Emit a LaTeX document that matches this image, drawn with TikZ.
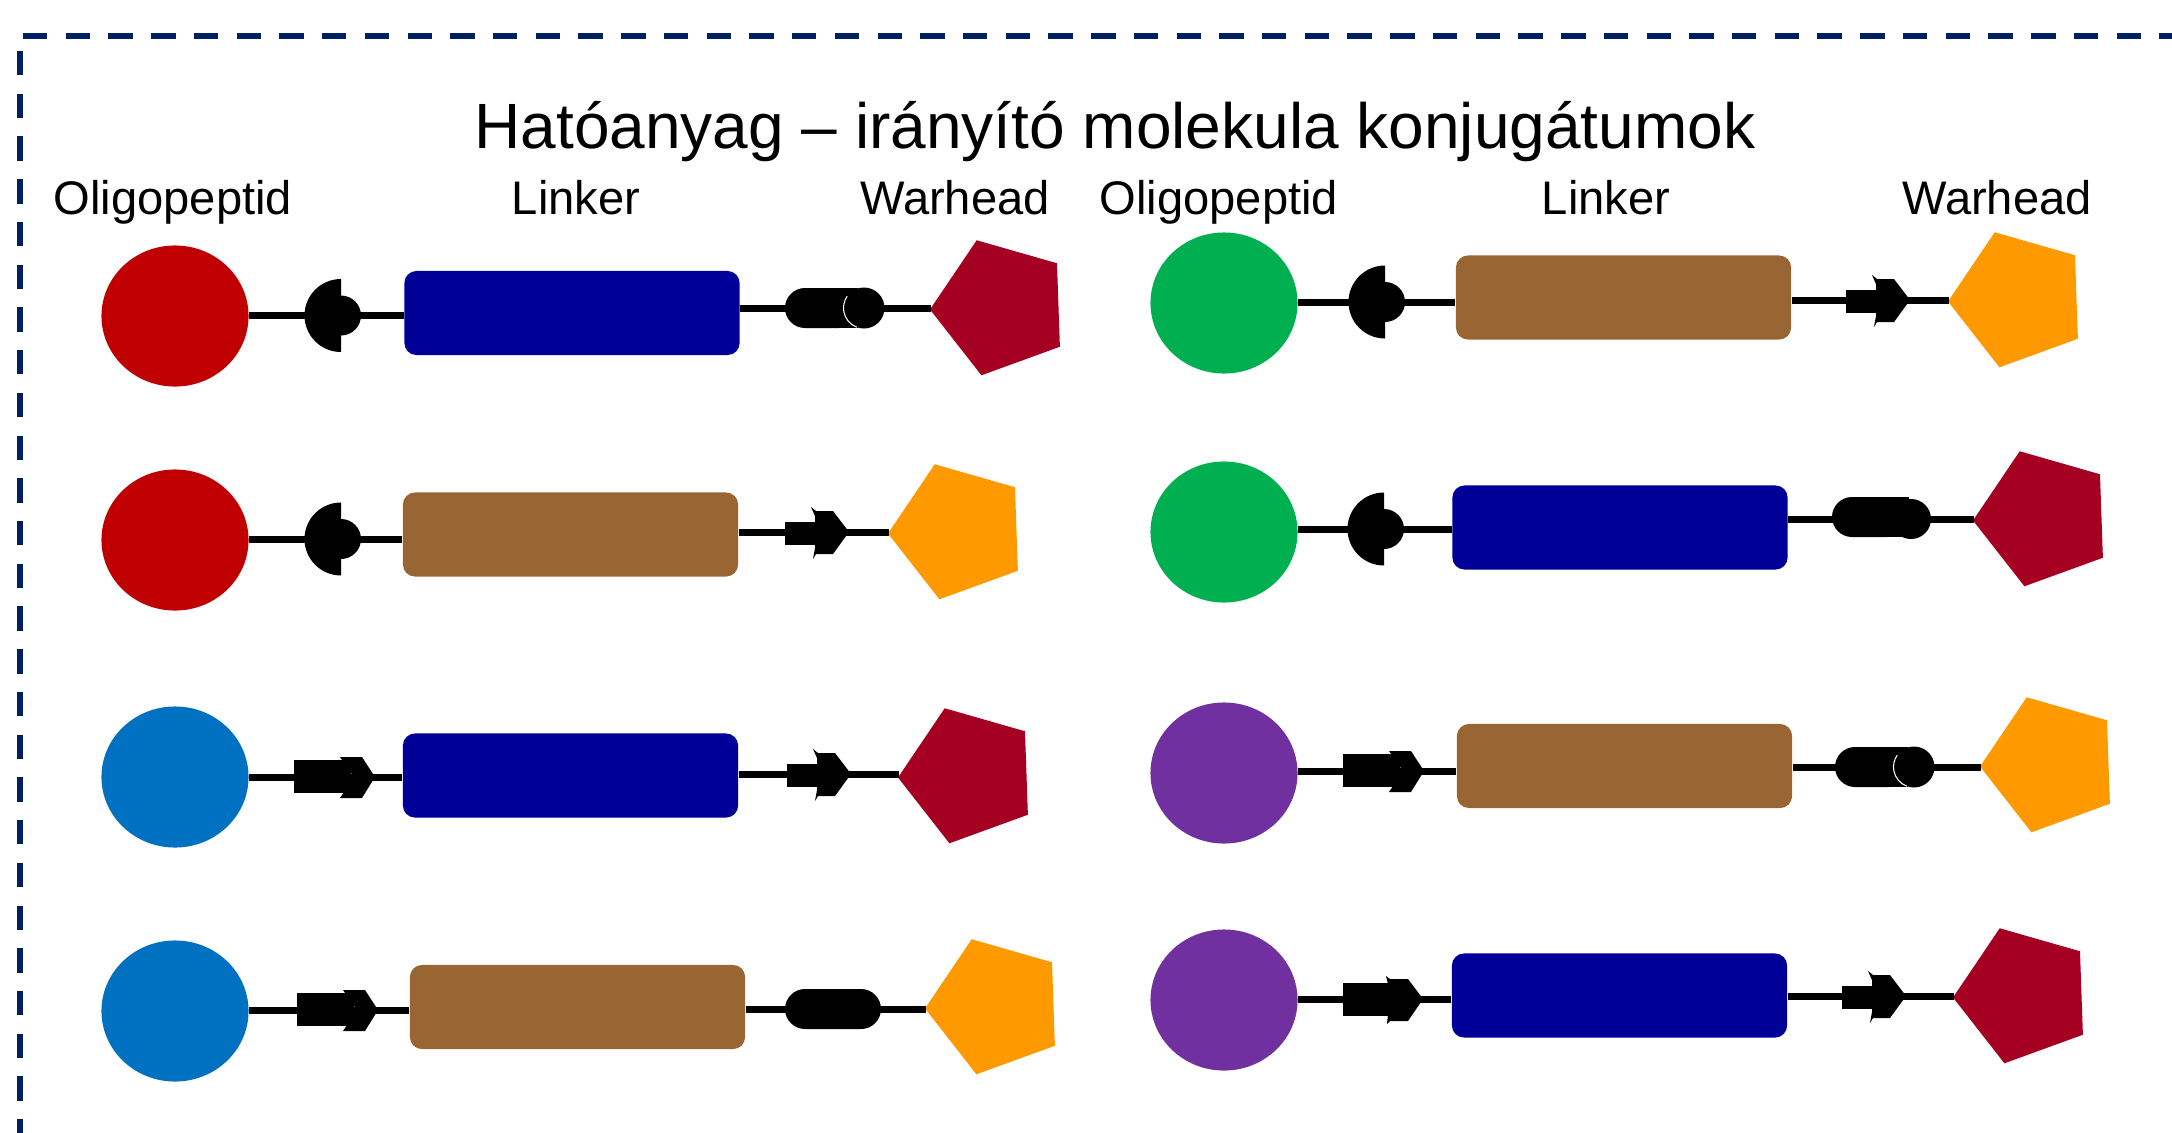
\documentclass[tikz,border=0pt]{standalone}
\usepackage{fontspec}
\setmainfont{Liberation Sans}
\usetikzlibrary{shapes.geometric}
\definecolor{navy}{HTML}{002060}
\definecolor{cred}{HTML}{C00000}
\definecolor{cgreen}{HTML}{00B050}
\definecolor{cblue}{HTML}{0070C0}
\definecolor{cpurple}{HTML}{7030A0}
\definecolor{boxblue}{HTML}{000099}
\definecolor{boxbrown}{HTML}{996633}
\definecolor{pdred}{HTML}{A50021}
\definecolor{porange}{HTML}{FF9900}
\tikzset{
 oligo/.style={ellipse, draw=none, inner sep=0pt, minimum width=1.47cm, minimum height=1.41cm},
 linker/.style={rectangle, draw=none, rounded corners=0.12cm, inner sep=0pt, minimum width=3.35cm, minimum height=0.84cm},
 warhead/.style={regular polygon, regular polygon sides=5, shape border rotate=92, draw=none, inner sep=0pt, minimum size=1.42cm},
 bond/.style={line width=0.07cm, black},
 lab/.style={anchor=base, font=\fontsize{13.4}{16}\selectfont},
 pics/socket/.style={code={
   \fill (0,36.5) arc[start angle=90,end angle=270,radius=36.5] -- cycle;
   \fill (0,0) circle[radius=20];
 }},
 pics/capball/.style={code={
   \fill[rounded corners=0.2cm] (-79,-22) rectangle (-5,18);
   \fill (-30,-22) rectangle (-2,18);
   \fill (0,0) circle[radius=20];
 }},
 pics/capballw/.style={code={
   \fill[rounded corners=0.2cm] (-79,-20) rectangle (-5,20);
   \fill (-30,-20) rectangle (-6,20);
   \fill (0,0) circle[radius=20.5];
   \draw[white,line width=0.3pt] (0,0) ++(110:20.5) arc[start angle=110,end angle=215,radius=20.5];
 }},
 pics/capsule/.style={code={
   \fill[rounded corners=0.2cm] (-48,-20) rectangle (48,20);
 }},
 pics/chevarrow/.style={code={
   \fill (-81,-17) rectangle (-24,16);
   \fill (-35,-20) -- (-13,-20) -- (0,0) -- (-13,21) -- (-35,21) -- (-21,0) -- cycle;
 }},
 pics/smallarrow/.style={code={
   \fill (-64,-10) rectangle (-33,13);
   \fill (-38,-25) -- (-33,-21) -- (-16,-21) -- (0,0) -- (-16,22) -- (-33,22) -- (-36,27) -- (-34,16) -- (-34,-16) -- cycle;
 }},
 pics/bigarrow/.style={code={
   \fill (-80,-16) rectangle (-34,17);
   \fill (-37,-23) -- (-33,-20) -- (-15,-20) -- (0,0) -- (-15,22) -- (-33,22) -- (-36,25) -- (-35,15) -- (-35,-15) -- cycle;
 }},
}
\begin{document}
\begin{tikzpicture}[x=0.01cm,y=-0.01cm]
\useasboundingbox (0,0) rectangle (2172,1133);
\begin{scope}
\clip (0,0) rectangle (2172,1133);
\draw[navy, line width=0.06cm, dash pattern=on 0.244cm off 0.183cm] (23,36) -- (2300,36);
\draw[navy, line width=0.06cm, dash pattern=on 0.244cm off 0.183cm] (20,51) -- (20,1300);
\end{scope}

% texts
\node[anchor=base, font=\fontsize{18.2}{22}\selectfont] (title) at (1115,148) {Hatóanyag – irányító molekula konjugátumok};
\node[lab] (h1) at (173,214) {Oligopeptid};
\node[lab] (h2) at (576,214) {Linker};
\node[lab] (h3) at (955,214) {Warhead};
\node[lab] (h4) at (1219,214) {Oligopeptid};
\node[lab] (h5) at (1606,214) {Linker};
\node[lab] (h6) at (1997,214) {Warhead};

% ---------- left column ----------
\node[oligo, fill=cred] (o1) at (175,316) {};
\node[linker, fill=boxblue] (l1) at (572,313) {};
\node[warhead, fill=pdred] (w1) at (1001,307) {};
\coordinate (a1) at (341,315.5);
\coordinate (b1) at (864,308);

\node[oligo, fill=cred] (o2) at (175,540) {};
\node[linker, fill=boxbrown] (l2) at (570.5,534.5) {};
\node[warhead, fill=porange] (w2) at (959,531) {};
\coordinate (a2) at (341,539);
\coordinate (b2) at (849,532);

\node[oligo, fill=cblue] (o3) at (175,777) {};
\node[linker, fill=boxblue] (l3) at (570.5,775.5) {};
\node[warhead, fill=pdred] (w3) at (969,775) {};
\coordinate (a3) at (375,777);
\coordinate (b3) at (851,774);

\node[oligo, fill=cblue] (o4) at (175,1011) {};
\node[linker, fill=boxbrown] (l4) at (577.5,1007) {};
\node[warhead, fill=porange] (w4) at (996,1006) {};
\coordinate (a4) at (378,1010);
\coordinate (b4) at (833,1009);

% ---------- right column ----------
\node[oligo, fill=cgreen] (o5) at (1224,303) {};
\node[linker, fill=boxbrown] (l5) at (1623.5,297.5) {};
\node[warhead, fill=porange] (w5) at (2019,299) {};
\coordinate (a5) at (1385,302);
\coordinate (b5) at (1910,300);

\node[oligo, fill=cgreen] (o6) at (1224,532) {};
\node[linker, fill=boxblue] (l6) at (1620,527.5) {};
\node[warhead, fill=pdred] (w6) at (2044,518) {};
\coordinate (a6) at (1384,529);
\coordinate (b6) at (1911,519);

\node[oligo, fill=cpurple] (o7) at (1224,773) {};
\node[linker, fill=boxbrown] (l7) at (1624.5,766) {};
\node[warhead, fill=porange] (w7) at (2051,764) {};
\coordinate (a7) at (1424,771);
\coordinate (b7) at (1914,767);

\node[oligo, fill=cpurple] (o8) at (1224,1000) {};
\node[linker, fill=boxblue] (l8) at (1619.5,995.5) {};
\node[warhead, fill=pdred] (w8) at (2024,995) {};
\coordinate (a8) at (1423,999);
\coordinate (b8) at (1906,996);

% bonds
\foreach \i in {1,...,8}{
  \draw[bond] (o\i.east |- a\i) -- (l\i.west |- a\i);
  \draw[bond] (l\i.east |- b\i) -- (w\i.west |- b\i);
}

% linker symbols
\pic at (a1) {socket};
\pic at (b1) {capballw};
\pic at (a2) {socket};
\pic at (b2) {smallarrow};
\pic at (a3) {chevarrow};
\pic at (b3) {smallarrow};
\pic at (a4) {chevarrow};
\pic at (b4) {capsule};
\pic at (a5) {socket};
\pic at (b5) {smallarrow};
\pic at (a6) {socket};
\pic at (b6) {capball};
\pic at (a7) {chevarrow};
\pic at (b7) {capballw};
\pic at (a8) {bigarrow};
\pic at (b8) {smallarrow};
\end{tikzpicture}
\end{document}
